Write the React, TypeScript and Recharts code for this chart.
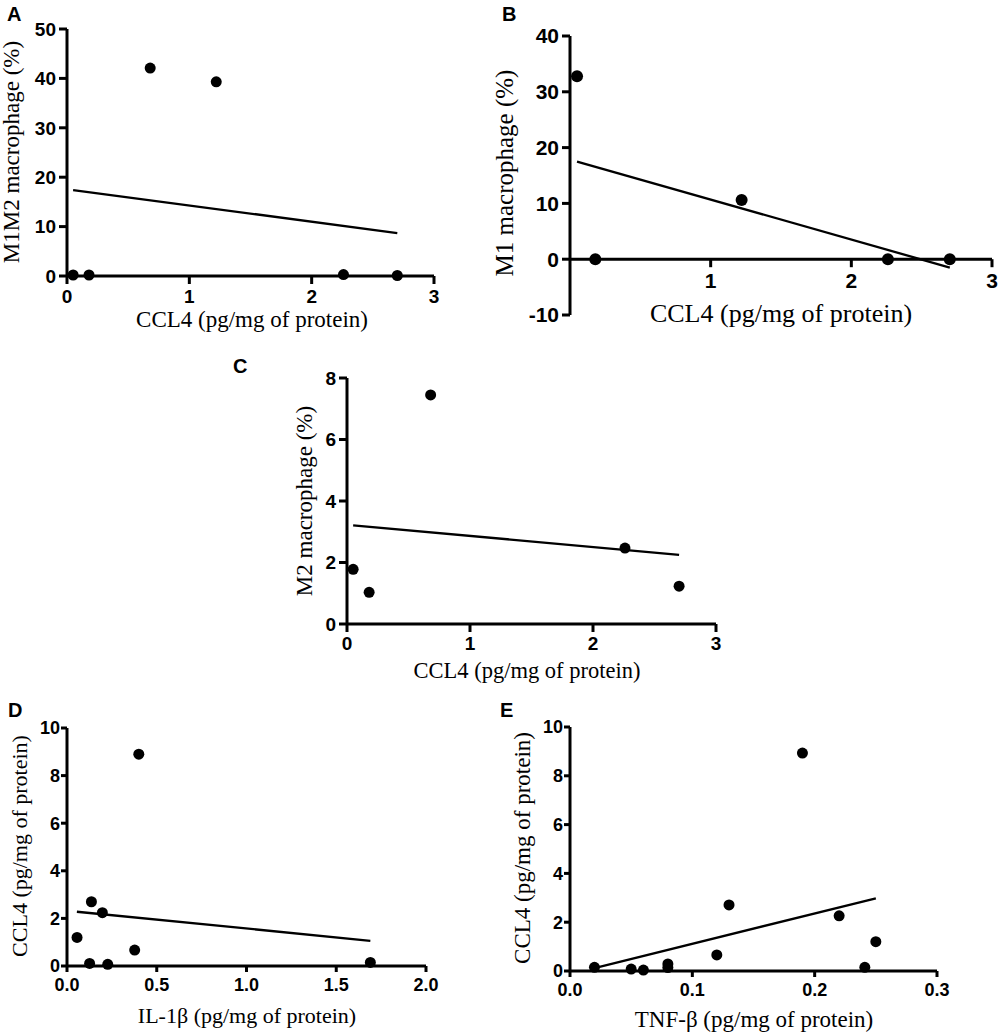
import { ScatterChart, Scatter, XAxis, YAxis, ReferenceLine } from 'recharts';

// A: M1M2 macrophage vs CCL4
const ccl4A = [0.05, 0.18, 0.68, 1.22, 2.26, 2.7];
const m1m2A = [0.2, 0.2, 42.1, 39.3, 0.3, 0.1];
const fitAx = [0.05, 2.7];
const fitAy = [17.4, 8.7];

// B: M1 macrophage vs CCL4
const ccl4B = [0.05, 0.18, 1.22, 2.26, 2.7];
const m1B = [32.8, 0, 10.6, 0, 0];
const fitBx = [0.05, 2.7];
const fitBy = [17.5, -1.5];

// C: M2 macrophage vs CCL4
const ccl4C = [0.05, 0.18, 0.68, 2.26, 2.7];
const m2C = [1.78, 1.03, 7.45, 2.47, 1.23];
const fitCx = [0.05, 2.7];
const fitCy = [3.21, 2.25];

// D: CCL4 vs IL-1β
const il1bD = [0.056, 0.126, 0.136, 0.197, 0.227, 0.377, 0.4, 1.69];
const ccl4D = [1.2, 0.11, 2.7, 2.24, 0.07, 0.67, 8.9, 0.15];
const fitDx = [0.055, 1.69];
const fitDy = [2.28, 1.06];

// E: CCL4 vs TNF-β
const tnfbE = [0.02, 0.05, 0.06, 0.08, 0.08, 0.12, 0.13, 0.19, 0.22, 0.241, 0.25];
const ccl4E = [0.15, 0.08, 0.04, 0.29, 0.14, 0.66, 2.71, 8.93, 2.26, 0.15, 1.2];
const fitEx = [0.02, 0.25];
const fitEy = [0.12, 2.98];

const ticks0to3 = [0, 1, 2, 3];
const ticks1to3 = [1, 2, 3];
const ticksA = [0, 10, 20, 30, 40, 50];
const ticksB = [-10, 0, 10, 20, 30, 40];
const ticksC = [0, 2, 4, 6, 8];
const ticks0to10 = [0, 2, 4, 6, 8, 10];
const ticksD = [0, 0.5, 1, 1.5, 2];
const ticksE = [0, 0.1, 0.2, 0.3];

const zip = (xs: number[], ys: number[]) => xs.map((x, i) => ({ x, y: ys[i] }));

const SANS = '"Liberation Sans", Arial, sans-serif';
const SERIF = '"Liberation Serif", "Times New Roman", serif';

const PADL = 60;
const PADT = 15;
const PADR = 15;
const PADB = 45;

type PanelProps = {
  box: [number, number, number, number];
  xDomain: [number, number];
  yDomain: [number, number];
  xTicks: number[];
  yTicks: number[];
  xDigits: number;
  pts: { x: number; y: number }[];
  fit: { x: number; y: number }[];
  font: number;
  tickSize: number;
  xGap: number;
  yGap: number;
  r: number;
  crossAtZero?: boolean;
};

const Panel = (p: PanelProps) => {
  const [x0, y0, x1, y1] = p.box;
  const w = x1 - x0 + PADL + PADR;
  const h = y1 - y0 + PADT + PADB;
  const axisStroke = { stroke: '#000', strokeWidth: 3 };
  const tickStyle = { fill: '#000', fontSize: p.font, fontWeight: 700, fontFamily: SANS };
  const fmt = (v: number) => v.toFixed(p.xDigits);
  const shift = ((y1 - y0) * (0 - p.yDomain[0])) / (p.yDomain[1] - p.yDomain[0]);

  const zeroTick = (t: any) => (
    <g>
      <line x1={t.x} x2={t.x} y1={t.y - shift} y2={t.y - shift + p.tickSize} {...axisStroke} />
      <text
        x={t.x}
        y={t.y - shift + p.tickSize + p.xGap}
        dy="0.71em"
        textAnchor="middle"
        {...tickStyle}
      >
        {fmt(t.payload.value)}
      </text>
    </g>
  );

  return (
    <div style={{ position: 'absolute', left: x0 - PADL, top: y0 - PADT }}>
      <ScatterChart width={w} height={h} margin={{ top: PADT, right: PADR, left: 0, bottom: 0 }}>
        {p.crossAtZero ? (
          <XAxis
            type="number"
            dataKey="x"
            domain={p.xDomain}
            ticks={p.xTicks}
            interval={0}
            height={PADB}
            axisLine={false}
            tickLine={false}
            tickSize={0}
            tickMargin={0}
            tick={zeroTick}
          />
        ) : (
          <XAxis
            type="number"
            dataKey="x"
            domain={p.xDomain}
            ticks={p.xTicks}
            interval={0}
            height={PADB}
            axisLine={axisStroke}
            tickLine={axisStroke}
            tickSize={p.tickSize}
            tickMargin={p.xGap}
            tick={tickStyle}
            tickFormatter={fmt}
          />
        )}
        <YAxis
          type="number"
          dataKey="y"
          domain={p.yDomain}
          ticks={p.yTicks}
          interval={0}
          width={PADL}
          axisLine={axisStroke}
          tickLine={axisStroke}
          tickSize={p.tickSize}
          tickMargin={p.yGap}
          tick={tickStyle}
        />
        {p.crossAtZero && <ReferenceLine y={0} {...axisStroke} />}
        <Scatter
          data={p.fit}
          line={{ stroke: '#000', strokeWidth: 2.3 }}
          shape={() => <g />}
          isAnimationActive={false}
        />
        <Scatter
          data={p.pts}
          shape={(s: any) => <circle cx={s.cx} cy={s.cy} r={p.r} fill="#000" />}
          isAnimationActive={false}
        />
      </ScatterChart>
    </div>
  );
};

type TitleProps = { x: number; y: number; size: number; rotate?: boolean; children: string };

const Title = ({ x, y, size, rotate, children }: TitleProps) => (
  <text
    transform={`translate(${x},${y})${rotate ? ' rotate(-90)' : ''}`}
    textAnchor="middle"
    fontFamily={SERIF}
    fontSize={size}
    fill="#000"
  >
    {children}
  </text>
);

const Letter = ({ x, y, children }: { x: number; y: number; children: string }) => (
  <text x={x} y={y} fontFamily={SANS} fontWeight={700} fontSize={20} fill="#000">
    {children}
  </text>
);

export default function App() {
  return (
    <div style={{ position: 'absolute', left: 0, top: 0, width: 1000, height: 1035, background: '#fff' }}>
      <Panel
        box={[67, 29, 434, 276]}
        xDomain={[0, 3]}
        yDomain={[0, 50]}
        xTicks={ticks0to3}
        yTicks={ticksA}
        xDigits={0}
        pts={zip(ccl4A, m1m2A)}
        fit={zip(fitAx, fitAy)}
        font={19}
        tickSize={8}
        xGap={6}
        yGap={3}
        r={5.5}
      />
      <Panel
        box={[570, 36, 992, 315]}
        xDomain={[0, 3]}
        yDomain={[-10, 40]}
        xTicks={ticks1to3}
        yTicks={ticksB}
        xDigits={0}
        pts={zip(ccl4B, m1B)}
        fit={zip(fitBx, fitBy)}
        font={21}
        tickSize={8}
        xGap={6}
        yGap={3}
        r={6}
        crossAtZero
      />
      <Panel
        box={[347, 378, 716, 624]}
        xDomain={[0, 3]}
        yDomain={[0, 8]}
        xTicks={ticks0to3}
        yTicks={ticksC}
        xDigits={0}
        pts={zip(ccl4C, m2C)}
        fit={zip(fitCx, fitCy)}
        font={19}
        tickSize={8}
        xGap={5}
        yGap={3}
        r={5.5}
      />
      <Panel
        box={[67, 728, 426, 966]}
        xDomain={[0, 2]}
        yDomain={[0, 10]}
        xTicks={ticksD}
        yTicks={ticks0to10}
        xDigits={1}
        pts={zip(il1bD, ccl4D)}
        fit={zip(fitDx, fitDy)}
        font={18}
        tickSize={6}
        xGap={6}
        yGap={1}
        r={5.5}
      />
      <Panel
        box={[570, 727, 937, 971]}
        xDomain={[0, 0.3]}
        yDomain={[0, 10]}
        xTicks={ticksE}
        yTicks={ticks0to10}
        xDigits={1}
        pts={zip(tnfbE, ccl4E)}
        fit={zip(fitEx, fitEy)}
        font={18}
        tickSize={6}
        xGap={6}
        yGap={1}
        r={5.5}
      />
      <svg
        width={1000}
        height={1035}
        style={{ position: 'absolute', left: 0, top: 0, pointerEvents: 'none' }}
      >
        <Letter x={7} y={21}>A</Letter>
        <Letter x={502} y={21}>B</Letter>
        <Letter x={233} y={373}>C</Letter>
        <Letter x={8} y={717}>D</Letter>
        <Letter x={500} y={717}>E</Letter>

        <Title x={252} y={327} size={23}>CCL4 (pg/mg of protein)</Title>
        <Title x={19} y={152} size={23} rotate>M1M2 macrophage (%)</Title>

        <Title x={781} y={322} size={26}>CCL4 (pg/mg of protein)</Title>
        <Title x={513} y={173} size={25} rotate>M1 macrophage (%)</Title>

        <Title x={527} y={678} size={22.5}>CCL4 (pg/mg of protein)</Title>
        <Title x={312} y={501} size={23} rotate>M2 macrophage (%)</Title>

        <Title x={247} y={1023} size={22}>IL-1β (pg/mg of protein)</Title>
        <Title x={27} y={846} size={22} rotate>CCL4 (pg/mg of protein)</Title>

        <Title x={754} y={1027} size={23}>TNF-β (pg/mg of protein)</Title>
        <Title x={530} y={848} size={23} rotate>CCL4 (pg/mg of protein)</Title>
      </svg>
    </div>
  );
}
